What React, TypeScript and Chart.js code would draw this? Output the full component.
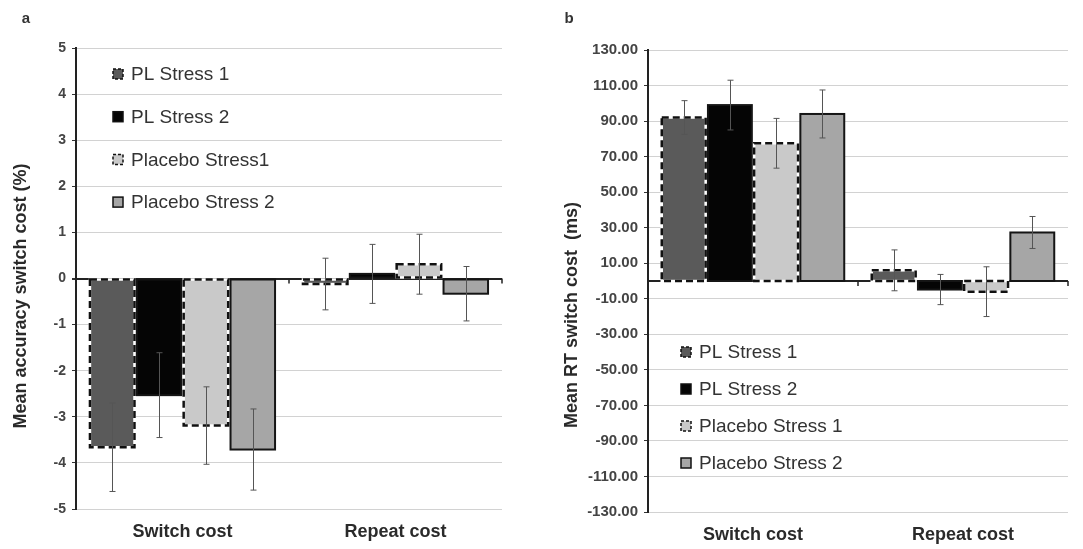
import React, { useEffect, useRef } from 'react';
import { Chart, registerables } from 'chart.js';

Chart.register(...registerables);

// ---------- data ----------
const categories = ['Switch cost', 'Repeat cost'];

const legendNamesA = ['PL Stress 1', 'PL Stress 2', 'Placebo Stress1', 'Placebo Stress 2'];
const legendNamesB = ['PL Stress 1', 'PL Stress 2', 'Placebo Stress 1', 'Placebo Stress 2'];

// Panel a: mean accuracy switch cost (%)
const accPLStress1 = [-3.66, -0.12];
const accPLStress1Err = [0.96, 0.56];
const accPLStress2 = [-2.53, 0.1];
const accPLStress2Err = [0.92, 0.64];
const accPlaceboStress1 = [-3.19, 0.31];
const accPlaceboStress1Err = [0.84, 0.65];
const accPlaceboStress2 = [-3.71, -0.33];
const accPlaceboStress2Err = [0.88, 0.59];

// Panel b: mean RT switch cost (ms)
const rtPLStress1 = [92, 6];
const rtPLStress1Err = [9.5, 11.5];
const rtPLStress2 = [99, -4.8];
const rtPLStress2Err = [14, 8.5];
const rtPlaceboStress1 = [77.5, -6];
const rtPlaceboStress1Err = [14, 14];
const rtPlaceboStress2 = [94, 27.3];
const rtPlaceboStress2Err = [13.5, 9];

const accTicks = { min: -5, max: 5, step: 1 };
const rtTicks = { min: -130, max: 130, step: 20 };

// ---------- styles ----------
const fills = ['#5a5a5a', '#050505', '#c9c9c9', '#a6a6a6'];
const dashed = [true, false, true, false];
const FONT = "'Liberation Sans', Arial, sans-serif";

const decorPlugin = {
  id: 'decor',
  beforeDatasetsDraw(chart: any) {
    const o = chart.options.plugins.decor;
    const { ctx, chartArea, scales } = chart;
    if (o.zeroLine) {
      const y0 = scales.y.getPixelForValue(0);
      ctx.save();
      ctx.strokeStyle = '#222';
      ctx.lineWidth = 2;
      ctx.beginPath();
      ctx.moveTo(chartArea.left, y0);
      ctx.lineTo(chartArea.right, y0);
      ctx.stroke();
      ctx.restore();
    }
  },
  afterDatasetsDraw(chart: any) {
    const { ctx, scales, chartArea } = chart;
    ctx.save();
    // category boundary marks on the zero line
    const y0 = scales.y.getPixelForValue(0);
    const mid = (scales.x.getPixelForValue(0) + scales.x.getPixelForValue(1)) / 2;
    ctx.strokeStyle = '#222';
    ctx.lineWidth = 1.5;
    [mid, chartArea.right].forEach((mx: number) => {
      ctx.beginPath();
      ctx.moveTo(mx, y0);
      ctx.lineTo(mx, y0 + 5);
      ctx.stroke();
    });
    // bar borders
    chart.data.datasets.forEach((ds: any, i: number) => {
      const meta = chart.getDatasetMeta(i);
      meta.data.forEach((bar: any) => {
        const p = bar.getProps(['x', 'y', 'base', 'width'], true);
        const left = p.x - p.width / 2;
        const top = Math.min(p.y, p.base);
        const h = Math.abs(p.base - p.y);
        if (dashed[i]) {
          ctx.lineWidth = 2.5;
          ctx.setLineDash([]);
          ctx.strokeStyle = '#ffffff';
          ctx.strokeRect(left, top, p.width, h);
          ctx.setLineDash([7, 4]);
          ctx.strokeStyle = '#111';
          ctx.strokeRect(left, top, p.width, h);
          ctx.setLineDash([]);
        } else {
          ctx.lineWidth = 2;
          ctx.strokeStyle = '#151515';
          ctx.strokeRect(left, top, p.width, h);
        }
      });
    });
    // error bars
    ctx.strokeStyle = '#555';
    ctx.lineWidth = 1;
    chart.data.datasets.forEach((ds: any, i: number) => {
      const meta = chart.getDatasetMeta(i);
      meta.data.forEach((bar: any, j: number) => {
        const v = ds.data[j];
        const e = ds.errors[j];
        const x = Math.round(bar.x) + 0.5;
        const yt = scales.y.getPixelForValue(v + e);
        const yb = scales.y.getPixelForValue(v - e);
        ctx.beginPath();
        ctx.moveTo(x, yt);
        ctx.lineTo(x, yb);
        ctx.moveTo(x - 3, yt);
        ctx.lineTo(x + 3, yt);
        ctx.moveTo(x - 3, yb);
        ctx.lineTo(x + 3, yb);
        ctx.stroke();
      });
    });
    ctx.restore();
  },
  afterDraw(chart: any) {
    const o = chart.options.plugins.decor;
    const { ctx } = chart;
    ctx.save();
    // panel letter
    ctx.fillStyle = '#333';
    ctx.font = `bold 15px ${FONT}`;
    ctx.textAlign = 'center';
    ctx.textBaseline = 'middle';
    ctx.fillText(o.panel.text, o.panel.x, o.panel.y);
    // axis title
    ctx.save();
    ctx.translate(o.title.x, o.title.y);
    ctx.rotate(-Math.PI / 2);
    ctx.font = `bold 18px ${FONT}`;
    ctx.fillStyle = '#2a2a2a';
    ctx.fillText(o.title.text, 0, 0);
    ctx.restore();
    // legend
    const L = o.legend;
    ctx.font = `19px ${FONT}`;
    ctx.textAlign = 'left';
    L.names.forEach((name: string, i: number) => {
      const cy = L.y + i * L.spacing;
      const bx = L.x;
      ctx.fillStyle = fills[i];
      ctx.fillRect(bx, cy - 5, 10, 10);
      ctx.lineWidth = 1.5;
      ctx.strokeStyle = '#111';
      if (dashed[i]) ctx.setLineDash([3, 2]);
      ctx.strokeRect(bx, cy - 5, 10, 10);
      ctx.setLineDash([]);
      ctx.fillStyle = '#333';
      ctx.fillText(name, bx + 18, cy + 1);
    });
    ctx.restore();
  },
};

function buildDatasets(vals: number[][], errs: number[][], names: string[]) {
  return vals.map((v, i) => ({
    label: names[i],
    data: v,
    errors: errs[i],
    backgroundColor: fills[i],
    borderWidth: 0,
    categoryPercentage: 0.88,
    barPercentage: 0.95,
  }));
}

function makeConfig(p: any) {
  return {
    type: 'bar',
    data: { labels: categories, datasets: p.datasets },
    plugins: [decorPlugin],
    options: {
      animation: false,
      responsive: true,
      maintainAspectRatio: false,
      layout: { padding: { top: p.padTop, right: p.padRight, left: 0, bottom: 0 } },
      plugins: {
        legend: { display: false },
        tooltip: { enabled: false },
        decor: p.decor,
      },
      scales: {
        x: {
          grid: { display: false, drawTicks: false },
          border: { display: false },
          ticks: { color: '#2a2a2a', font: { family: FONT, size: 18, weight: 'bold' }, padding: 12 },
          afterFit: (s: any) => { s.height = p.xHeight; },
        },
        y: {
          min: p.ticks.min,
          max: p.ticks.max,
          ticks: {
            stepSize: p.ticks.step,
            color: '#444',
            font: { family: FONT, size: p.tickSize, weight: 'bold' },
            padding: 6,
            callback: p.fmt,
          },
          grid: {
            color: (c: any) => (c.tick && c.tick.value === 0 ? '#222' : '#d2d2d2'),
            lineWidth: (c: any) => (c.tick && c.tick.value === 0 ? 2 : 1),
            tickColor: '#333',
            tickLength: 4,
          },
          border: { display: true, color: '#222', width: 2 },
          afterFit: (s: any) => { s.width = p.yWidth; },
        },
      },
    },
  };
}

function ChartBox(props: { config: any; style: React.CSSProperties }) {
  const ref = useRef<HTMLCanvasElement>(null);
  useEffect(() => {
    const chart = new Chart(ref.current as HTMLCanvasElement, props.config);
    return () => chart.destroy();
  }, []);
  return (
    <div style={{ position: 'absolute', top: 0, height: 549, ...props.style }}>
      <canvas ref={ref} />
    </div>
  );
}

export default function App() {
  const cfgA = makeConfig({
    datasets: buildDatasets(
      [accPLStress1, accPLStress2, accPlaceboStress1, accPlaceboStress2],
      [accPLStress1Err, accPLStress2Err, accPlaceboStress1Err, accPlaceboStress2Err],
      legendNamesA
    ),
    ticks: accTicks,
    fmt: (v: any) => String(v),
    tickSize: 14,
    padTop: 48,
    padRight: 30,
    xHeight: 40,
    yWidth: 76,
    decor: {
      zeroLine: false,
      panel: { text: 'a', x: 26, y: 19 },
      title: { text: 'Mean accuracy switch cost (%)', x: 21, y: 296 },
      legend: { names: legendNamesA, x: 113, y: 74, spacing: 42.7 },
    },
  });
  const cfgB = makeConfig({
    datasets: buildDatasets(
      [rtPLStress1, rtPLStress2, rtPlaceboStress1, rtPlaceboStress2],
      [rtPLStress1Err, rtPLStress2Err, rtPlaceboStress1Err, rtPlaceboStress2Err],
      legendNamesB
    ),
    ticks: rtTicks,
    fmt: (v: any) => Number(v).toFixed(2),
    tickSize: 15,
    padTop: 50,
    padRight: 15,
    xHeight: 37,
    yWidth: 108,
    decor: {
      zeroLine: true,
      panel: { text: 'b', x: 29, y: 19 },
      title: { text: 'Mean RT switch cost  (ms)', x: 32, y: 315 },
      legend: { names: legendNamesB, x: 141, y: 352, spacing: 37 },
    },
  });
  return (
    <div>
      <ChartBox config={cfgA} style={{ left: 0, width: 532 }} />
      <ChartBox config={cfgB} style={{ left: 540, width: 543 }} />
    </div>
  );
}
